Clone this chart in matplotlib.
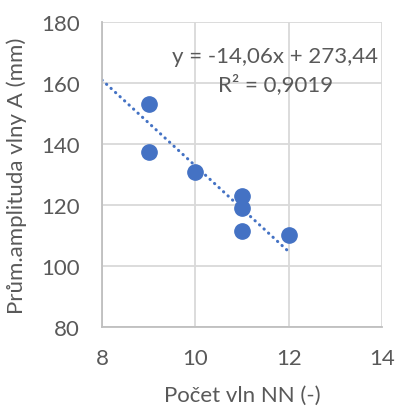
import numpy as np
import matplotlib.pyplot as plt
import matplotlib

matplotlib.rcParams['font.family'] = ['Lato', 'DejaVu Sans']

# data
pocet_vln = [9, 9, 10, 11, 11, 11, 12]
amplituda = [153.1, 137.3, 130.7, 123.1, 118.9, 111.4, 110.2]
slope, intercept = -14.06, 273.44
trend_x = [8, 12]
eq_text = 'y = -14,06x + 273,44'
r2_text = 'R² = 0,9019'

grey = '#595959'
blue = '#4472C4'

fig = plt.figure(figsize=(3.95, 4.10), dpi=100)
ax = fig.add_axes([102/395, 1-328/410, 280/395, 305/410])

tx = np.array(trend_x)
ax.plot(tx, slope*tx + intercept, linestyle=(0, (0.1, 1.9)), color=blue, lw=2.2,
        dash_capstyle='round', zorder=2)
ax.plot(pocet_vln, amplituda, 'o', color=blue, ms=11, mec=blue, zorder=3)

ax.set_xlim(8, 14)
ax.set_ylim(80, 180)
ax.set_xticks(np.arange(8, 15, 2))
ax.set_yticks(np.arange(80, 181, 20))
ax.grid(color='#D9D9D9', lw=1.3)
ax.set_axisbelow(True)
for s in ['top', 'right']:
    ax.spines[s].set_visible(False)
for s in ['left', 'bottom']:
    ax.spines[s].set_color('#BFBFBF')
    ax.spines[s].set_linewidth(1.3)
ax.tick_params(axis='y', length=0, labelsize=16, colors=grey, pad=16)
ax.tick_params(axis='x', length=0, labelsize=16, colors=grey, pad=15)

ax.text(11.71, 168.9, eq_text, ha='center', va='center', fontsize=16, color=grey)
ax.text(11.71, 159.7, r2_text, ha='center', va='center', fontsize=16, color=grey)

ax.set_xlabel('Počet vln NN (-)', fontsize=16, color=grey, labelpad=12)
ax.set_ylabel('Prům.amplituda vlny A (mm)', fontsize=16, color=grey, labelpad=10)

fig.savefig('out.png', dpi=100)
